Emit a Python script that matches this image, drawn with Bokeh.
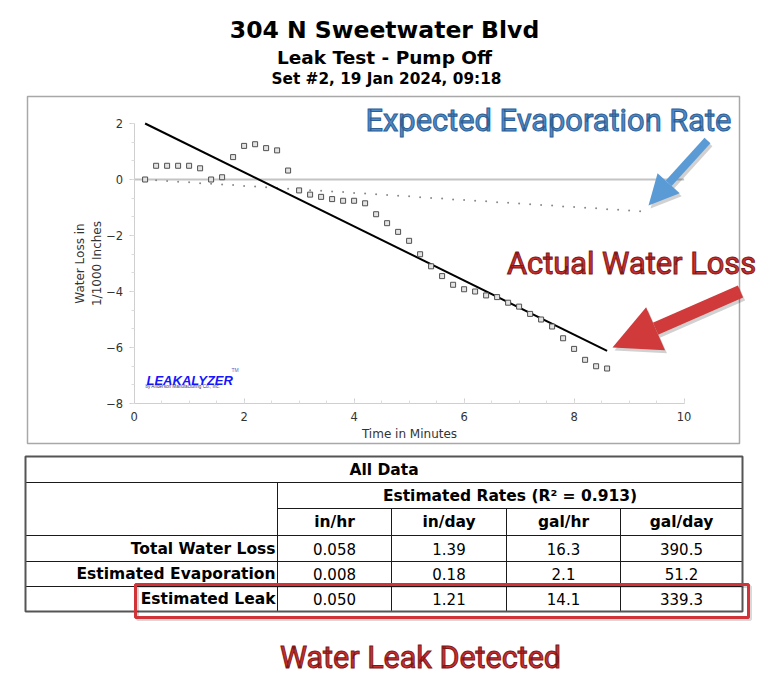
from bokeh.plotting import figure
from bokeh.models import Range1d, LinearAxis, SingleIntervalTicker, Arrow, NormalHead
from bokeh.core.properties import value
from bokeh.embed import file_html
from bokeh.resources import INLINE

# ---------------- data ----------------
time_min = [0.2, 0.4, 0.6, 0.8, 1.0, 1.2, 1.4, 1.6, 1.8, 2.0, 2.2, 2.4, 2.6, 2.8, 3.0,
            3.2, 3.4, 3.6, 3.8, 4.0, 4.2, 4.4, 4.6, 4.8, 5.0, 5.2, 5.4, 5.6, 5.8, 6.0,
            6.2, 6.4, 6.6, 6.8, 7.0, 7.2, 7.4, 7.6, 7.8, 8.0, 8.2, 8.4, 8.6]
water_loss = [0.00, 0.49, 0.49, 0.49, 0.49, 0.40, 0.00, 0.08, 0.80, 1.20,
              1.26, 1.12, 1.04, 0.32, -0.39, -0.54, -0.62, -0.70, -0.76, -0.76,
              -0.85, -1.24, -1.56, -1.87, -2.19, -2.67, -3.10, -3.45, -3.76, -3.92,
              -4.00, -4.14, -4.20, -4.40, -4.54, -4.80, -5.00, -5.25, -5.67, -6.05,
              -6.44, -6.67, -6.75]
evap_time = [0.2, 0.4, 0.6, 0.8, 1.0, 1.2, 1.4, 1.6, 1.8, 2.0, 2.2, 2.4, 2.6, 2.8, 3.0,
             3.2, 3.4, 3.6, 3.8, 4.0, 4.2, 4.4, 4.6, 4.8, 5.0, 5.2, 5.4, 5.6, 5.8, 6.0,
             6.2, 6.4, 6.6, 6.8, 7.0, 7.2, 7.4, 7.6, 7.8, 8.0, 8.2, 8.4, 8.6, 8.8, 9.0, 9.2]
evap_loss = [0.00, -0.03, -0.05, -0.08, -0.10, -0.13, -0.15, -0.18, -0.20, -0.23,
             -0.25, -0.28, -0.30, -0.33, -0.35, -0.38, -0.40, -0.43, -0.45, -0.48,
             -0.50, -0.53, -0.55, -0.58, -0.60, -0.63, -0.66, -0.68, -0.71, -0.73,
             -0.76, -0.78, -0.81, -0.83, -0.86, -0.88, -0.91, -0.93, -0.96, -0.98,
             -1.01, -1.03, -1.06, -1.08, -1.11, -1.13]
fit_time = [0.2, 8.6]
fit_loss = [2.0, -6.12]

x_bounds = (0, 10)
y_bounds = (-8, 2)

title_lines = ["304 N Sweetwater Blvd", "Leak Test - Pump Off", "Set #2, 19 Jan 2024, 09:18"]
table_title = "All Data"
rates_title = "Estimated Rates (R\u00b2 = 0.913)"
units = ["in/hr", "in/day", "gal/hr", "gal/day"]
row_labels = ["Total Water Loss", "Estimated Evaporation", "Estimated Leak"]
total_loss = ["0.058", "1.39", "16.3", "390.5"]
est_evap = ["0.008", "0.18", "2.1", "51.2"]
est_leak = ["0.050", "1.21", "14.1", "339.3"]
table_rows = [total_loss, est_evap, est_leak]

# ---------------- layout constants (pixels) ----------------
W, H = 768, 691
X0_PX, X_SCALE = 133.6, 55.0
Y0_PX, Y_SCALE = 179.0, 28.0
TAHOMA = value("DejaVu Sans")
ROBOTO = value("Roboto")

p = figure(width=W, height=H, x_range=Range1d(0, W), y_range=Range1d(H, 0),
           output_backend="svg", toolbar_location=None,
           x_axis_location=None, y_axis_location=None, min_border=0,
           outline_line_color=None, background_fill_color="white",
           border_fill_color="white")
p.grid.visible = False
p.extra_x_ranges = {"dx": Range1d(-X0_PX / X_SCALE, (W - X0_PX) / X_SCALE)}
p.extra_y_ranges = {"dy": Range1d((Y0_PX - H) / Y_SCALE, Y0_PX / Y_SCALE)}
D = dict(x_range_name="dx", y_range_name="dy")

# ---------------- header ----------------
p.text(x=[384, 384, 386], y=[29, 57, 78], text=title_lines, text_font=TAHOMA,
       text_font_style="bold", text_font_size=["23.5px", "18.5px", "15.3px"],
       text_align="center", text_baseline="alphabetic", text_color="black")

# ---------------- chart box ----------------
p.quad(left=[27], right=[739], top=[96], bottom=[443], fill_color=None,
       line_color="#a8a8a8", line_width=1.5)

# axes
xaxis = LinearAxis(fixed_location=y_bounds[0], bounds=x_bounds,
                   ticker=SingleIntervalTicker(interval=2, num_minor_ticks=4),
                   axis_label="Time in Minutes", **D)
yaxis = LinearAxis(fixed_location=x_bounds[0], bounds=y_bounds,
                   ticker=SingleIntervalTicker(interval=2, num_minor_ticks=3),
                   axis_label="Water Loss in\n1/1000 Inches", **D)
for ax in (xaxis, yaxis):
    ax.axis_line_color = "#cfcfcf"
    ax.major_tick_line_color = "#cfcfcf"
    ax.minor_tick_line_color = "#dcdcdc"
    ax.major_label_text_font = "DejaVu Sans"
    ax.major_label_text_font_size = "11.5px"
    ax.major_label_text_color = "#333333"
    ax.axis_label_text_font = "DejaVu Sans"
    ax.axis_label_text_font_size = "12px"
    ax.axis_label_text_font_style = "normal"
    ax.axis_label_text_color = "#333333"
xaxis.major_tick_in = 5
xaxis.major_tick_out = 0
xaxis.minor_tick_in = 3
xaxis.minor_tick_out = 0
xaxis.major_label_standoff = 8
xaxis.axis_label_standoff = 3
yaxis.major_tick_in = 0
yaxis.major_tick_out = 5
yaxis.minor_tick_in = 0
yaxis.minor_tick_out = 3
yaxis.major_label_standoff = 6
yaxis.axis_label_standoff = 0
p.add_layout(xaxis, "below")
p.add_layout(yaxis, "left")

# zero reference line
p.segment(x0=[x_bounds[0]], x1=[x_bounds[1]], y0=[0], y1=[0],
          line_color="#c4c4c4", line_width=2, **D)

# series
p.scatter(evap_time, evap_loss, marker="circle", size=2.0, fill_color="#8a8a8a",
          line_color=None, **D)
p.line(fit_time, fit_loss, line_color="black", line_width=2, **D)
p.scatter(time_min, water_loss, marker="square", size=5, fill_color="#e4e4e4",
          line_color="#505050", line_width=1, **D)

# logo
p.text(x=[146], y=[380], text=["LEAKALYZER"], text_font=value("Liberation Sans"),
       text_font_style="bold italic", text_font_size="13px", text_color="#1515ff",
       text_baseline="alphabetic")
p.text(x=[231], y=[369], text=["TM"], text_font=value("Liberation Sans"),
       text_font_size="5px", text_color="#6060c0", text_baseline="alphabetic")
p.text(x=[145], y=[386], text=["by Anderson Manufacturing Co., Inc."],
       text_font=value("Liberation Sans"), text_font_size="4.6px",
       text_color="#333366", text_baseline="alphabetic")

# ---------------- callouts ----------------
blue, blue_dark = "#5b9bd5", "#2e5f94"
red, red_dark = "#d03a3a", "#7d1818"
for dx_, dy_, col, alpha in [(2, 3, "#000000", 0.18), (0, 0, None, 1.0)]:
    c = col or blue
    p.add_layout(Arrow(x_start=707 + dx_, y_start=140 + dy_, x_end=648 + dx_, y_end=205 + dy_,
                       line_color=c, line_alpha=alpha, line_width=8,
                       end=NormalHead(size=30, fill_color=c, fill_alpha=alpha,
                                      line_color=None)))
    c = col or red
    p.add_layout(Arrow(x_start=740 + dx_, y_start=291 + dy_, x_end=612 + dx_, y_end=347 + dy_,
                       line_color=c, line_alpha=alpha, line_width=13,
                       end=NormalHead(size=47, fill_color=c, fill_alpha=alpha,
                                      line_color=None)))

p.text(x=[548], y=[120], text=["Expected Evaporation Rate"], text_font=ROBOTO,
       text_font_size="30.8px", text_color="#4f8ac9", text_outline_color=blue_dark,
       text_align="center", text_baseline="alphabetic")
p.text(x=[631], y=[263], text=["Actual Water Loss"], text_font=ROBOTO,
       text_font_size="30.8px", text_color="#c9302f", text_outline_color=red_dark,
       text_align="center", text_baseline="alphabetic")

# ---------------- table ----------------
rows_y = [456, 482, 508, 535, 561, 586, 611]
cols_x = [25, 277, 391, 506, 620, 742]
L, R, T, B = [], [], [], []
def cell(l, r, t, b):
    L.append(l); R.append(r); T.append(t); B.append(b)
cell(cols_x[0], cols_x[-1], rows_y[0], rows_y[1])
cell(cols_x[0], cols_x[1], rows_y[1], rows_y[3])
cell(cols_x[1], cols_x[-1], rows_y[1], rows_y[2])
for c in range(1, 5):
    cell(cols_x[c], cols_x[c + 1], rows_y[2], rows_y[3])
for r in range(3, 6):
    for c in range(5):
        cell(cols_x[c], cols_x[c + 1], rows_y[r], rows_y[r + 1])
p.quad(left=L, right=R, top=T, bottom=B, fill_color=None, line_color="#1a1a1a",
       line_width=1)
p.quad(left=[cols_x[0]], right=[cols_x[-1]], top=[rows_y[0]], bottom=[rows_y[-1]],
       fill_color=None, line_color="#555555", line_width=2)

mid = lambda a, b: (a + b) / 2
col_c = [mid(cols_x[c], cols_x[c + 1]) for c in range(1, 5)]
row_c = [mid(rows_y[r], rows_y[r + 1]) for r in range(6)]
p.text(x=[mid(cols_x[0], cols_x[-1]), mid(cols_x[1], cols_x[-1])] + col_c,
       y=[row_c[0], row_c[1]] + [row_c[2]] * 4,
       text=[table_title, rates_title] + units, text_font=TAHOMA, text_font_style="bold",
       text_font_size="15.5px", text_align="center", text_baseline="middle",
       text_color="black")
p.text(x=[cols_x[1] - 2] * 3, y=row_c[3:], text=row_labels, text_font=TAHOMA,
       text_font_style="bold", text_font_size="15.5px", text_align="right",
       text_baseline="middle", text_color="black")
vx, vy, vt = [], [], []
for r, vals in enumerate(table_rows):
    for c, v in enumerate(vals):
        vx.append(col_c[c]); vy.append(row_c[3 + r]); vt.append(v)
p.text(x=vx, y=vy, text=vt, text_font=TAHOMA, text_font_size="15px",
       text_align="center", text_baseline="middle", text_color="black")

# highlight box
p.quad(left=[137], right=[750], top=[586], bottom=[619], fill_color=None,
       line_color="black", line_alpha=0.15, line_width=3)
p.quad(left=[135], right=[748], top=[584], bottom=[617], fill_color=None,
       line_color="#d13438", line_width=3)

p.text(x=[420], y=[657], text=["Water Leak Detected"], text_font=ROBOTO,
       text_font_size="30.5px", text_color="#c9302f", text_outline_color=red_dark,
       text_align="center", text_baseline="alphabetic")

open("out.html", "w").write(file_html(p, INLINE))
